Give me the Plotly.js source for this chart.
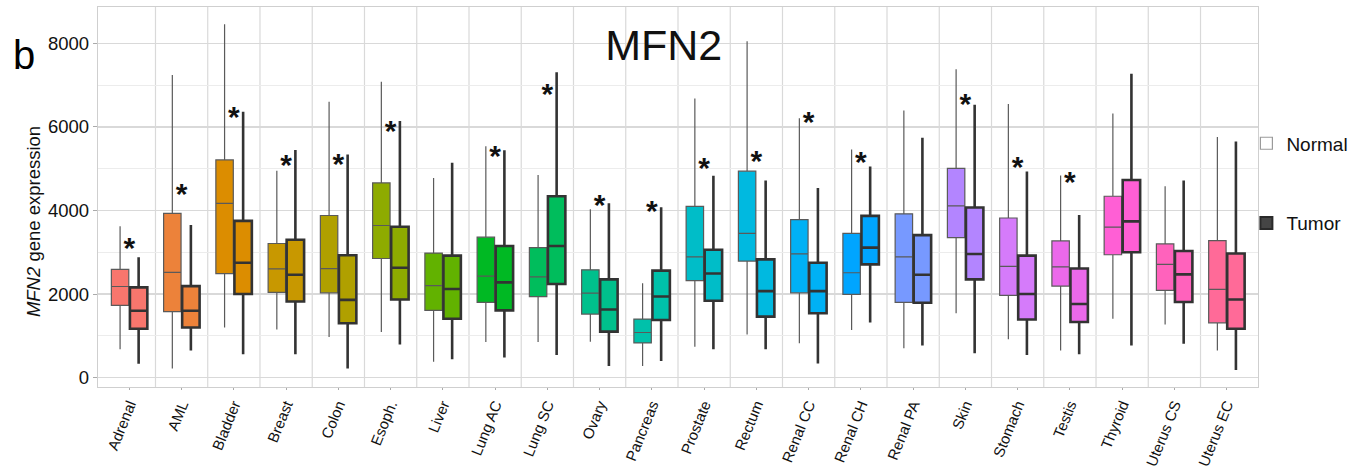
<!DOCTYPE html>
<html>
<head>
<meta charset="utf-8">
<script src="https://cdn.plot.ly/plotly-3.0.1.min.js"></script>
<style>html,body{margin:0;padding:0;background:#fff;}#chart{width:1361px;height:473px;}</style>
</head>
<body>
<div id="chart"></div>
<script>
const categories = ["Adrenal","AML","Bladder","Breast","Colon","Esoph.","Liver","Lung AC","Lung SC","Ovary","Pancreas","Prostate","Rectum","Renal CC","Renal CH","Renal PA","Skin","Stomach","Testis","Thyroid","Uterus CS","Uterus EC"];

const normalUpper  = [3625,7240,8460,4950,6600,7080,4780,5540,4850,4030,2260,6680,8050,6210,5460,6390,7380,6550,4840,6320,4580,5760];
const normalQ3     = [2590,3930,5210,3210,3880,4660,2980,3360,3110,2580,1400,4100,4940,3780,3450,3920,5010,3820,3270,4340,3200,3280];
const normalMedian = [2180,2520,4170,2600,2610,3640,2200,2430,2410,2020,1080,2890,3450,2960,2510,2890,4110,2660,2650,3600,2710,2110];
const normalQ1     = [1730,1580,2490,2040,2030,2850,1610,1800,1940,1520,830,2320,2790,2030,1990,1800,3350,1970,2190,2940,2090,1310];
const normalLower  = [680,220,1200,1150,970,1090,380,850,850,860,280,740,1030,820,1140,700,1540,920,650,1410,1270,650];

const tumorUpper   = [2880,3650,6360,5450,5340,6140,5140,5440,7310,4170,4080,4830,4720,4540,5050,5740,6530,4930,3890,7270,4720,5650];
const tumorQ3      = [2160,2190,3750,3300,2930,3610,2920,3150,4340,2350,2560,3060,2830,2750,3870,3410,4070,2920,2610,4730,3030,2970];
const tumorMedian  = [1600,1600,2750,2460,1860,2630,2120,2280,3150,1630,1940,2490,2070,2070,3110,2460,2960,2000,1760,3740,2470,1870];
const tumorQ1      = [1170,1200,2000,1820,1300,1870,1410,1610,2240,1100,1380,1840,1460,1540,2710,1790,2350,1390,1330,3000,1810,1170];
const tumorLower   = [330,650,560,560,220,790,440,480,540,280,400,680,680,340,1320,770,580,540,560,770,810,180];

const colors = ["#F8766D","#EC823A","#DC8D00","#C89800","#B0A000","#8EAB00","#62B200","#00B923","#00BD5C","#00C08C","#00C1AA","#00BDC8","#00B9E0","#00B1F5","#00A5FF","#7799FF","#B385FF","#D57BFA","#EB69EA","#FF5FD5","#FF62BC","#FF6A98"];

const starCategories = ["Adrenal","AML","Bladder","Breast","Colon","Esoph.","Lung AC","Lung SC","Ovary","Pancreas","Prostate","Rectum","Renal CC","Renal CH","Skin","Stomach","Testis"];
const starValues     = [3050,4340,6180,5020,5050,5840,5240,6720,4070,3930,4960,5120,6060,5100,6480,4980,4620];

const legendNames = ["Normal", "Tumor"];

const FONT = "'Liberation Sans', Arial, sans-serif";

const traces = [];
categories.forEach((c, i) => {
  traces.push({
    type: 'box', name: 'Normal', x: [c],
    q1: [normalQ1[i]], median: [normalMedian[i]], q3: [normalQ3[i]],
    lowerfence: [normalLower[i]], upperfence: [normalUpper[i]],
    fillcolor: colors[i], line: {color: '#5a5a5a', width: 1.2},
    whiskerwidth: 0, boxpoints: false,
    offsetgroup: 'Normal', legendgroup: 'Normal', showlegend: false
  });
  traces.push({
    type: 'box', name: 'Tumor', x: [c],
    q1: [tumorQ1[i]], median: [tumorMedian[i]], q3: [tumorQ3[i]],
    lowerfence: [tumorLower[i]], upperfence: [tumorUpper[i]],
    fillcolor: colors[i], line: {color: '#333333', width: 2.6},
    whiskerwidth: 0, boxpoints: false,
    offsetgroup: 'Tumor', legendgroup: 'Tumor', showlegend: false
  });
});
// legend keys: drawn on hidden helper axes (their boxes fall outside the helper range)
traces.push({type:'box', name:legendNames[0], x:[0], q1:[10], median:[10], q3:[10], xaxis:'x2', yaxis:'y2',
  fillcolor:'#ffffff', line:{color:'#9a9a9a', width:1.2}, legendgroup:'Normal', showlegend:true, hoverinfo:'skip'});
traces.push({type:'box', name:legendNames[1], x:[0], q1:[10], median:[10], q3:[10], xaxis:'x2', yaxis:'y2',
  fillcolor:'#454545', line:{color:'#2a2a2a', width:2}, legendgroup:'Tumor', showlegend:true, hoverinfo:'skip'});
// significance stars
traces.push({type:'scatter', mode:'text', x: starCategories, y: starValues, text: starCategories.map(() => '*'),
  textfont:{family:'Liberation Sans, Arial, sans-serif', size:30, weight:'bold', color:'#111'}, showlegend:false, hoverinfo:'skip', cliponaxis:false});

const shapes = [];
for (let i = 0; i < categories.length - 1; i++) {
  shapes.push({type:'line', xref:'x', yref:'paper', x0:i+0.5, x1:i+0.5, y0:0, y1:1, layer:'below',
    line:{color:'#d9d9d9', width:1.2}});
}

const layout = {
  width: 1361, height: 473,
  margin: {l: 98, r: 103, t: 7, b: 86},
  paper_bgcolor: '#ffffff', plot_bgcolor: '#ffffff',
  boxmode: 'group', boxgap: 0.29, boxgroupgap: 0.06,
  font: {family: FONT, color: '#1a1a1a'},
  title: {text: 'MFN2', font: {family: FONT, size: 43, color: '#111'}, x: 0.4877, xref: 'paper', xanchor: 'center',
          y: 0.905, yref: 'container', yanchor: 'middle'},
  xaxis: {type: 'category', categoryorder: 'array', categoryarray: categories, range: [-0.6, 21.6],
    showgrid: false, showline: true, mirror: true, linecolor: '#cfcfcf', linewidth: 1.2,
    ticks: 'outside', ticklen: 2, tickcolor: '#aaaaaa', tickangle: -68,
    tickfont: {family: FONT, size: 15, color: '#111'}, zeroline: false, fixedrange: true},
  yaxis: {range: [-225, 8870], tickvals: [0,2000,4000,6000,8000], ticktext: ['0','2000','4000','6000','8000'],
    showgrid: true, gridcolor: '#d9d9d9', gridwidth: 1.2,
    minor: {tickvals: [1000,3000,5000,7000], showgrid: true, gridcolor: '#ececec', gridwidth: 1, ticks: ''},
    showline: true, mirror: true, linecolor: '#cfcfcf', linewidth: 1.2,
    ticks: 'outside', ticklen: 4, tickcolor: '#aaaaaa',
    tickfont: {family: FONT, size: 18.5, color: '#111'}, zeroline: false, fixedrange: true},
  xaxis2: {overlaying: 'x', visible: false, range: [-1, 1], fixedrange: true},
  yaxis2: {overlaying: 'y', visible: false, range: [-2, -1], fixedrange: true},
  legend: {x: 0.99, xanchor: 'left', y: 0.691, yanchor: 'top', tracegroupgap: 52,
    font: {family: FONT, size: 19, color: '#111'}, bgcolor: 'rgba(0,0,0,0)'},
  shapes: shapes,
  annotations: [
    {text: '<i>MFN2</i> gene expression', textangle: -90, xref: 'paper', yref: 'paper',
     x: -0.056, y: 0.434, xanchor: 'center', yanchor: 'middle', showarrow: false,
     font: {family: FONT, size: 18.5, color: '#111'}},
    {text: 'b', xref: 'paper', yref: 'paper', x: (24 - 98) / 1160, y: (387 - 55) / 380,
     xanchor: 'center', yanchor: 'middle', showarrow: false,
     font: {family: FONT, size: 40, color: '#000'}}
  ]
};

Plotly.newPlot('chart', traces, layout, {staticPlot: true});
</script>
</body>
</html>
